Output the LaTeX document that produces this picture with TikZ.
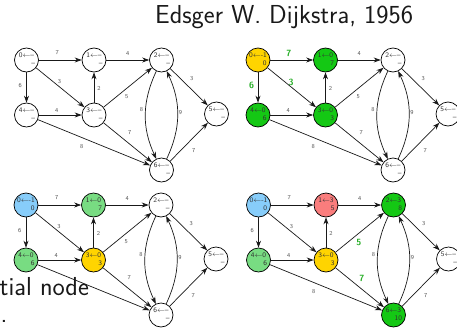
\documentclass[tikz,border=0pt]{standalone}
\usetikzlibrary{arrows.meta}
\definecolor{cyel}{RGB}{255,212,0}
\definecolor{cgrn}{RGB}{20,200,20}
\definecolor{clgr}{RGB}{120,220,130}
\definecolor{cblu}{RGB}{135,205,250}
\definecolor{cred}{RGB}{250,125,125}
\definecolor{clbl}{RGB}{85,85,85}
\definecolor{chl}{RGB}{40,175,40}
\newcommand{\vt}[3]{\begin{tabular}{@{}r@{}}\makebox[17pt][c]{#1$\leftarrow$#2}\\[0.7pt]#3\end{tabular}}
\newcommand{\vu}[1]{\vt{#1}{--}{--}}
\newcommand{\lfs}{8}
\newcommand{\gedges}[1]{%
\draw[edge] (#10) -- node[l01,shift={(-3,7)}]{7} (#11);
\draw[edge] (#11) -- node[l12,shift={(0,6)}]{4} (#12);
\draw[edge] (#10) -- node[l04,shift={(-6.3,2)}]{6} (#14);
\draw[edge] (#10) -- node[l03,shift={(-0.7,5.5)}]{3} (#13);
\draw[edge] (#13) -- node[l31,shift={(5,-0.5)}]{2} (#11);
\draw[edge] (#14) -- node[l43,shift={(-3.5,4)}]{4} (#13);
\draw[edge] (#13) -- node[l32,shift={(-1,-9.5)}]{5} (#12);
\draw[edge] (#13) -- node[l36,shift={(2,9.5)}]{7} (#16);
\draw[edge] (#14) -- node[l46,shift={(-12.2,-4.5)}]{\lfs} (#16);
\draw[edge] (#12) to[bend right=25] node[l26,shift={(-4,5)}]{8} (#16);
\draw[edge] (#16) to[bend right=25] node[l62,shift={(3,2)}]{9} (#12);
\draw[edge] (#12) -- node[l25,shift={(2.8,8)}]{3} (#15);
\draw[edge] (#16) -- node[l65,shift={(4.8,-9)}]{7} (#15);
}
\begin{document}
\begin{tikzpicture}[x=1pt,y=1pt,
  vtx/.style={circle, draw=black, line width=0.7pt, minimum size=24pt, inner sep=-4pt,
    font=\fontsize{7}{8}\selectfont\sffamily, text=black!80, fill=white},
  edge/.style={draw=black!90, line width=0.7pt, -{Stealth[length=7pt,width=5pt]}},
  lbl/.style={font=\fontsize{6}{6}\selectfont\sffamily, text=clbl, inner sep=0pt},
  hl/.style={font=\fontsize{9}{9}\selectfont\sffamily\bfseries, text=chl, inner sep=0pt},
  l01/.style=lbl, l12/.style=lbl, l04/.style=lbl, l03/.style=lbl, l31/.style=lbl,
  l43/.style=lbl, l32/.style=lbl, l36/.style=lbl, l46/.style=lbl, l26/.style=lbl,
  l62/.style=lbl, l25/.style=lbl, l65/.style=lbl,
  bigtxt/.style={font=\fontsize{26}{30}\selectfont\sffamily, text=black!90, inner sep=0pt, anchor=base west}
]
\path[use as bounding box] (0,-332) rectangle (457,0);
\clip (0,-332) rectangle (457,0);
\fill[white] (0,-332) rectangle (457,0);

\node[bigtxt] (title) at (155,-23) {Edsger W. Dijkstra, 1956};

% graph 1
\begin{scope}[shift={(26.5,-60)}]
\node[vtx] (a0) at (0,0) {\vu{0}};
\node[vtx] (a1) at (67.5,0) {\vu{1}};
\node[vtx] (a2) at (135,0) {\vu{2}};
\node[vtx] (a3) at (67.5,-55) {\vu{3}};
\node[vtx] (a4) at (0,-55) {\vu{4}};
\node[vtx] (a5) at (190,-54) {\vu{5}};
\node[vtx] (a6) at (135,-110) {\vu{6}};
\gedges{a}
\end{scope}

% graph 2
\begin{scope}[shift={(258,-60)}, l01/.style=hl, l04/.style=hl, l03/.style=hl]
\node[vtx, fill=cyel] (b0) at (0,0) {\vt{0}{-1}{0}};
\node[vtx, fill=cgrn] (b1) at (67.5,0) {\vt{1}{0}{7}};
\node[vtx] (b2) at (135,0) {\vu{2}};
\node[vtx, fill=cgrn] (b3) at (67.5,-55) {\vt{3}{0}{3}};
\node[vtx, fill=cgrn] (b4) at (0,-55) {\vt{4}{0}{6}};
\node[vtx] (b5) at (190,-54) {\vu{5}};
\node[vtx] (b6) at (135,-110) {\vu{6}};
\gedges{b}
\end{scope}

% graph 3
\begin{scope}[shift={(26,-205)}]
\renewcommand{\lfs}{}
\node[vtx, fill=cblu] (c0) at (0,0) {\vt{0}{-1}{0}};
\node[vtx, fill=clgr] (c1) at (67.5,0) {\vt{1}{0}{7}};
\node[vtx] (c2) at (135,0) {\vu{2}};
\node[vtx, fill=cyel] (c3) at (67.5,-55) {\vt{3}{0}{3}};
\node[vtx, fill=clgr] (c4) at (0,-55) {\vt{4}{0}{6}};
\node[vtx] (c5) at (190,-54) {\vu{5}};
\node[vtx] (c6) at (135,-110) {\vu{6}};
\gedges{c}
\end{scope}

% graph 4
\begin{scope}[shift={(258.5,-205)}, l32/.style=hl, l36/.style=hl]
\node[vtx, fill=cblu] (d0) at (0,0) {\vt{0}{-1}{0}};
\node[vtx, fill=cred] (d1) at (67.5,0) {\vt{1}{3}{5}};
\node[vtx, fill=cgrn] (d2) at (135,0) {\vt{2}{3}{8}};
\node[vtx, fill=cyel] (d3) at (67.5,-55) {\vt{3}{0}{3}};
\node[vtx, fill=clgr] (d4) at (0,-55) {\vt{4}{0}{6}};
\node[vtx] (d5) at (190,-54) {\vu{5}};
\node[vtx, fill=cgrn] (d6) at (135,-110) {\vt{6}{3}{10}};
\gedges{d}
\end{scope}

\node[bigtxt] (txtA) at (-0.5,-295) {tial node};
\node[bigtxt] (txtB) at (0.5,-322) {.};
\end{tikzpicture}
\end{document}
